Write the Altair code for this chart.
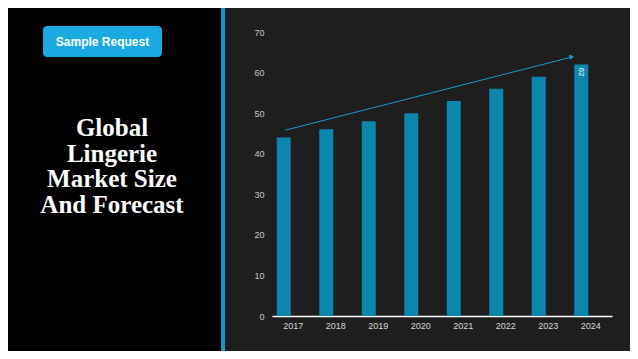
import altair as alt
import pandas as pd

# ---- data ----
years = ["2017", "2018", "2019", "2020", "2021", "2022", "2023", "2024"]
market_size = [44, 46, 48, 50, 53, 56, 59, 62]
y_ticks = [0, 10, 20, 30, 40, 50, 60, 70]
trend_from = ("2017", 45.8)
trend_to = ("2024", 63.9)
title_lines = ["Global", "Lingerie", "Market Size", "And Forecast"]
button_label = "Sample Request"

BG_RIGHT = "#1e1e1e"
BAR = "#0b86ad"
ACCENT = "#1a9ad6"
BUTTON = "#1aa9e0"
FONT = "Liberation Sans"

df = pd.DataFrame({"year": years, "size": market_size})
trend = pd.DataFrame({"x1": [trend_from[0]], "y1": [trend_from[1]],
                      "x2": [trend_to[0]], "y2": [trend_to[1]]})
one = pd.DataFrame({"k": [0]})

# ---- left panel ----
panel_line = alt.Chart(one).mark_rect(color="#1793cf").encode(
    x=alt.value(213), x2=alt.value(217), y=alt.value(0), y2=alt.value(343))
button = alt.Chart(one).mark_rect(color=BUTTON, cornerRadius=4).encode(
    x=alt.value(35), x2=alt.value(154), y=alt.value(18), y2=alt.value(49))
button_text = alt.Chart(one).mark_text(
    text=button_label, font=FONT, fontSize=12, fontWeight="bold", color="white",
    align="center", baseline="middle").encode(x=alt.value(94.5), y=alt.value(33.5))
title = alt.Chart(one).mark_text(
    text=title_lines, font="Liberation Serif", fontSize=25, fontWeight="bold",
    color="white", align="center", baseline="alphabetic", lineHeight=25.6
).encode(x=alt.value(104), y=alt.value(128))

left = alt.layer(panel_line, button, button_text, title).properties(
    width=217, height=343, view=alt.ViewBackground(fill="#000000", strokeWidth=0))

# ---- right panel (bar chart) ----
xscale = alt.Scale(domain=years, paddingInner=0, paddingOuter=0)
yscale = alt.Scale(domain=[0, 70 * 308 / 284], nice=False, zero=True)
xaxis = alt.Axis(labelAngle=0, ticks=False, domainColor="#ffffff", domainWidth=1.5,
                 labelColor="#d9d9d9", labelFont=FONT, labelFontSize=9,
                 labelPadding=5, grid=False, title=None)
yaxis = alt.Axis(values=y_ticks, ticks=False, domain=False, grid=False,
                 labelColor="#c8c8c8", labelFont=FONT, labelFontSize=9,
                 labelPadding=8, minExtent=47, maxExtent=47, title=None)


def X(field):
    return alt.X(field, type="nominal", scale=xscale, axis=xaxis)


def Y(field):
    return alt.Y(field, type="quantitative", scale=yscale, axis=yaxis)


bars = alt.Chart(df).mark_bar(size=14, xOffset=-9.5, color=BAR).encode(
    x=X("year"), y=Y("size"))

arrow = alt.Chart(trend).mark_rule(color=ACCENT, strokeWidth=1, xOffset=-8,
                                   x2Offset=-17.75).encode(
    x=X("x1"), x2="x2", y=Y("y1"), y2="y2")

head = alt.Chart(trend).mark_point(shape="triangle-right", filled=True, size=28,
                                   angle=345.6, xOffset=-19, color=ACCENT,
                                   opacity=1).encode(x=X("x2"), y=Y("y2"))

label = alt.Chart(df).transform_filter(alt.datum.year == years[-1]).mark_text(
    angle=90, align="left", baseline="middle", xOffset=-9.5, yOffset=3,
    fontSize=8, font=FONT, color="white").encode(
    x=X("year"), y=Y("size"), text=alt.Text("size:Q"))

right = alt.layer(bars, arrow, head, label).properties(
    width=340, height=308, view=alt.ViewBackground(fill=BG_RIGHT, strokeWidth=0))

chart = alt.hconcat(left, right, spacing=0).properties(
    background=BG_RIGHT,
    padding={"left": 0, "top": 0, "right": 18, "bottom": 0},
).configure_view(strokeWidth=0)

chart.save("out.html", embed_options={"renderer": "svg", "actions": False})
